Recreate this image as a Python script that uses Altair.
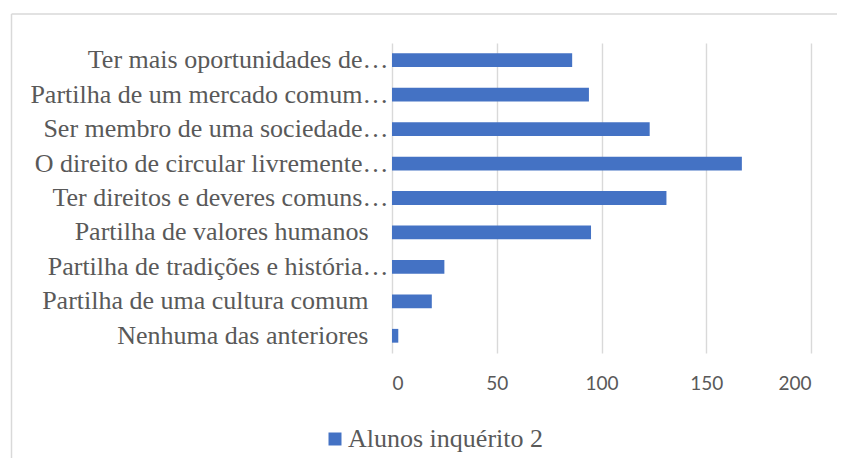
import altair as alt
import pandas as pd

categories = [
    "Ter mais oportunidades de…",
    "Partilha de um mercado comum…",
    "Ser membro de uma sociedade…",
    "O direito de circular livremente…",
    "Ter direitos e deveres comuns…",
    "Partilha de valores humanos",
    "Partilha de tradições e história…",
    "Partilha de uma cultura comum",
    "Nenhuma das anteriores",
]
values = [86, 94, 123, 167, 131, 95, 25, 19, 3]
series_name = "Alunos inquérito 2"
x_ticks = [0, 50, 100, 150, 200]

df = pd.DataFrame({"categoria": categories, "valor": values, "serie": series_name})

W, H = 419, 310
SERIF = "'Liberation Serif', 'Times New Roman', serif"

bars = alt.Chart(df).mark_bar(color="#4472C4").encode(
    y=alt.Y(
        "categoria:N",
        sort=None,
        title=None,
        scale=alt.Scale(paddingInner=0.6, paddingOuter=0.3),
        axis=alt.Axis(
            domain=False,
            ticks=False,
            labelFont=SERIF,
            labelFontSize=26,
            labelColor="#595959",
            labelLimit=0,
            labelPadding={"condition": {"test": "indexof(datum.label, '…') < 0", "value": 24}, "value": 4},
        ),
    ),
    x=alt.X(
        "valor:Q",
        title=None,
        scale=alt.Scale(domain=[0, 200], nice=False),
        axis=alt.Axis(
            values=x_ticks,
            domain=False,
            ticks=False,
            grid=True,
            gridColor="#D9D9D9",
            gridWidth=1.4,
            labelFont="Lato",
            labelFontSize=19,
            labelColor="#595959",
            labelPadding=21,
        ),
    ),
    color=alt.Color(
        "serie:N",
        scale=alt.Scale(range=["#4472C4"]),
        legend=alt.Legend(
            title=None,
            orient="none",
            legendX=-70,
            legendY=383,
            symbolType="square",
            symbolSize=169,
            symbolStrokeWidth=0,
            labelFont=SERIF,
            labelFontSize=26,
            labelColor="#595959",
            labelOffset=0,
            labelLimit=0,
        ),
    ),
)

border_df = pd.DataFrame({"k": [0]})
left_border = alt.Chart(border_df).mark_rule(color="#D9D9D9", strokeWidth=1.5, clip=False).encode(
    x=alt.value(-380.5), y=alt.value(-29), y2=alt.value(420)
)
top_border = alt.Chart(border_df).mark_rule(color="#D9D9D9", strokeWidth=1.5, clip=False).encode(
    x=alt.value(-380.5), x2=alt.value(460), y=alt.value(-29)
)

chart = alt.layer(left_border, top_border, bars).properties(
    width=W,
    height=H,
    autosize=alt.AutoSizeParams(type="none"),
    padding={"left": 384, "top": 35, "right": 26, "bottom": 105},
).configure_view(stroke=None)

chart.save("out.html", embed_options={"renderer": "svg", "actions": False})
